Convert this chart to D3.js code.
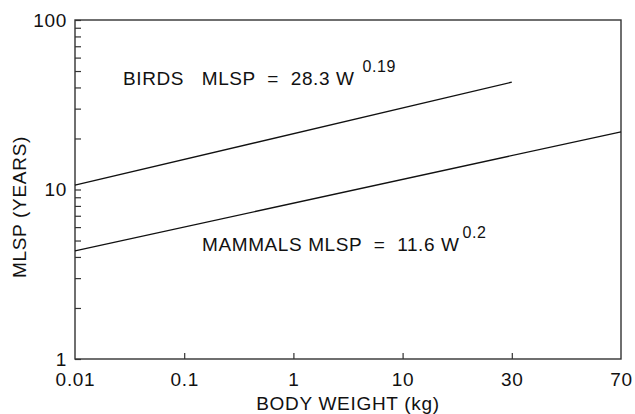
<!DOCTYPE html>
<html>
<head>
<meta charset="utf-8">
<script src="https://cdn.jsdelivr.net/npm/d3@7"></script>
<style>
  body { margin: 0; background: #fff; }
  svg { font-family: "Liberation Sans", Arial, sans-serif; }
  .lbl { font-size: 19px; letter-spacing: 0.7px; fill: #111; }
  .ann { font-size: 19px; letter-spacing: 0.6px; fill: #111; white-space: pre; }
</style>
</head>
<body>
<svg width="635" height="414"></svg>
<script>
// x categories are spaced evenly on the original figure
const xLabels = ["0.01", "0.1", "1", "10", "30", "70"];
const yMajor = [1, 10, 100];
const yMinor = [2, 3, 4, 5, 6, 7, 8, 9, 20, 30, 40, 50, 60, 70, 80, 90];

// line end points (body weight label, MLSP years)
const birdsW = ["0.01", "30"];
const birdsMLSP = [10.6, 43];
const mammalsW = ["0.01", "70"];
const mammalsMLSP = [4.35, 21.9];

const svg = d3.select("svg");
const mLeft = 75, mRight = 621, mTop = 20, mBottom = 359;

const x = d3.scalePoint().domain(xLabels).range([mLeft, mRight]);
const y = d3.scaleLog().domain([1, 100]).range([mBottom, mTop]);

// frame
svg.append("rect")
  .attr("x", mLeft).attr("y", mTop)
  .attr("width", mRight - mLeft).attr("height", mBottom - mTop)
  .attr("fill", "none").attr("stroke", "#333").attr("stroke-width", 1.4);

// y ticks pointing inward
const yTicks = svg.append("g")
  .attr("transform", `translate(${mLeft},0)`)
  .call(d3.axisRight(y).tickValues(yMajor.concat(yMinor)).tickSize(6).tickFormat(""));
yTicks.select(".domain").remove();
yTicks.selectAll("line").attr("stroke", "#333").attr("stroke-width", 1.2);

const yLab = svg.append("g")
  .attr("transform", `translate(${mLeft - 8},0)`)
  .call(d3.axisLeft(y).tickValues(yMajor).tickSize(0).tickFormat(d3.format("d")));
yLab.select(".domain").remove();
yLab.selectAll("text").attr("class", "lbl").attr("x", 0).attr("dy", "0.32em");

// x ticks pointing inward
const xTicks = svg.append("g")
  .attr("transform", `translate(0,${mBottom})`)
  .call(d3.axisTop(x).tickValues(xLabels.slice(1, -1)).tickSize(6).tickFormat(""));
xTicks.select(".domain").remove();
xTicks.selectAll("line").attr("stroke", "#333").attr("stroke-width", 1.2);

const xLab = svg.append("g")
  .attr("transform", `translate(0,${mBottom + 13})`)
  .call(d3.axisBottom(x).tickSize(0));
xLab.select(".domain").remove();
xLab.selectAll("text").attr("class", "lbl").attr("y", 0).attr("dy", "0.71em");

// lines
const line = d3.line().x(d => x(d[0])).y(d => y(d[1]));
svg.append("path")
  .datum(d3.zip(birdsW, birdsMLSP))
  .attr("d", line).attr("fill", "none").attr("stroke", "#111").attr("stroke-width", 1.3);
svg.append("path")
  .datum(d3.zip(mammalsW, mammalsMLSP))
  .attr("d", line).attr("fill", "none").attr("stroke", "#111").attr("stroke-width", 1.3);

// equations
const b = svg.append("text").attr("class", "ann").attr("x", 123).attr("y", 85);
b.append("tspan").text("BIRDS   MLSP  =  28.3 W");
b.append("tspan").attr("dx", 8).attr("dy", -13).attr("font-size", 16).text("0.19");

const m = svg.append("text").attr("class", "ann").attr("x", 202).attr("y", 251);
m.append("tspan").text("MAMMALS MLSP  =  11.6 W");
m.append("tspan").attr("dx", 3).attr("dy", -13).attr("font-size", 16).text("0.2");

// axis titles
svg.append("text").attr("class", "lbl")
  .attr("x", (mLeft + mRight) / 2).attr("y", 410)
  .attr("text-anchor", "middle").text("BODY WEIGHT (kg)");
svg.append("text").attr("class", "lbl")
  .attr("transform", "translate(26,207) rotate(-90)")
  .attr("text-anchor", "middle").text("MLSP (YEARS)");
</script>
</body>
</html>
